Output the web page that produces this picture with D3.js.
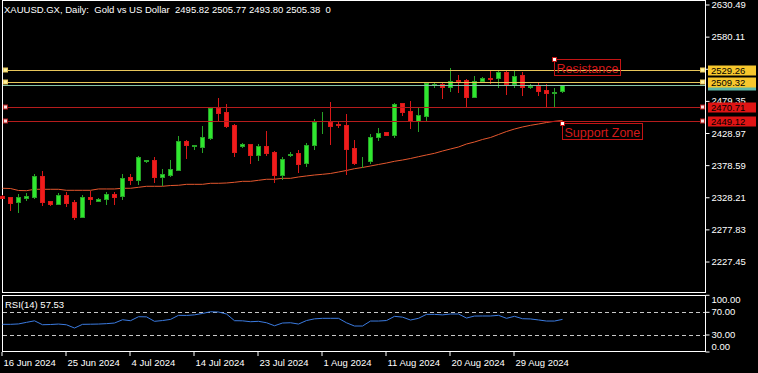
<!DOCTYPE html>
<html>
<head>
<meta charset="utf-8">
<script src="https://cdn.jsdelivr.net/npm/d3@7"></script>
<style>
  body { margin: 0; background: #000; }
  svg { display: block; font-family: "Liberation Sans", Arial, sans-serif; font-size: 9.5px; }
  text { white-space: pre; }
</style>
</head>
<body>
<div id="chart"></div>
<script>
// daily bars (broker has short Sunday sessions)
var dates = [
  "2024-06-16","2024-06-17","2024-06-18","2024-06-19","2024-06-20","2024-06-21",
  "2024-06-23","2024-06-24","2024-06-25","2024-06-26","2024-06-27","2024-06-28",
  "2024-06-30","2024-07-01","2024-07-02","2024-07-03","2024-07-04","2024-07-05",
  "2024-07-07","2024-07-08","2024-07-09","2024-07-10","2024-07-11","2024-07-12",
  "2024-07-14","2024-07-15","2024-07-16","2024-07-17","2024-07-18","2024-07-19",
  "2024-07-21","2024-07-22","2024-07-23","2024-07-24","2024-07-25","2024-07-26",
  "2024-07-28","2024-07-29","2024-07-30","2024-07-31","2024-08-01","2024-08-02",
  "2024-08-04","2024-08-05","2024-08-06","2024-08-07","2024-08-08","2024-08-09",
  "2024-08-11","2024-08-12","2024-08-13","2024-08-14","2024-08-15","2024-08-16",
  "2024-08-18","2024-08-19","2024-08-20","2024-08-21","2024-08-22","2024-08-23",
  "2024-08-25","2024-08-26","2024-08-27","2024-08-28","2024-08-29","2024-08-30",
  "2024-09-01","2024-09-02","2024-09-03","2024-09-04","2024-09-05"
]

var open = [
  2331.0,2328.9,2321.1,2328.6,2329.9,2362.3,2323.1,2318.9,2332.5,2321.6,
  2298.5,2329.4,2323.6,2325.8,2334.6,2330.5,2360.8,2356.5,2386.0,2387.4,
  2361.2,2363.9,2372.2,2417.7,2409.4,2408.3,2422.4,2469.4,2462.7,2442.3,
  2410.1,2412.5,2395.3,2409.4,2400.4,2363.9,2395.9,2397.9,2382.3,2410.5,
  2446.3,2447.5,2444.3,2442.3,2406.3,2385.9,2385.4,2424.0,2431.3,2427.1,
  2476.3,2464.3,2449.1,2456.4,2505.0,2507.1,2502.4,2512.9,2512.9,2486.7,
  2511.8,2515.5,2515.5,2524.9,2506.6,2520.7,2502.4,2503.5,2497.2,2493.0,
  2495.82
]
var high = [
  2331.8,2329.4,2333.6,2335.2,2366.0,2370.2,2323.9,2335.2,2337.7,2324.7,
  2332.5,2338.8,2327.8,2336.8,2337.7,2365.0,2365.0,2394.2,2388.0,2392.1,
  2373.3,2387.4,2425.1,2418.8,2411.7,2440.7,2471.0,2484.2,2475.2,2443.1,
  2413.9,2413.0,2412.5,2433.4,2401.5,2392.6,2400.0,2403.1,2413.9,2451.3,
  2462.7,2478.4,2447.0,2459.6,2418.8,2392.6,2428.2,2437.1,2431.8,2477.3,
  2477.3,2480.0,2471.0,2508.6,2507.7,2507.7,2531.2,2520.7,2514.0,2519.2,
  2517.1,2527.0,2528.5,2527.4,2528.5,2526.0,2506.1,2507.7,2506.1,2499.9,
  2505.77
]
var low = [
  2327.8,2309.0,2306.4,2324.7,2327.4,2316.9,2316.9,2318.0,2315.8,2294.9,
  2297.6,2318.9,2323.1,2318.9,2318.9,2326.7,2349.3,2350.3,2385.0,2352.5,
  2348.2,2362.8,2371.3,2391.0,2404.7,2400.4,2419.9,2450.2,2439.7,2393.7,
  2408.3,2382.3,2387.9,2395.3,2353.4,2357.6,2393.7,2369.1,2378.0,2404.0,
  2430.2,2412.1,2439.7,2365.5,2381.2,2377.0,2382.3,2418.8,2426.6,2424.0,
  2458.0,2438.1,2432.9,2450.2,2502.4,2485.1,2496.1,2493.6,2471.8,2485.7,
  2511.3,2508.6,2502.4,2490.4,2502.4,2489.5,2500.8,2489.2,2471.8,2471.8,
  2493.80
]
var close = [
  2328.6,2320.5,2328.9,2331.0,2361.9,2321.6,2318.4,2332.5,2320.5,2298.0,
  2328.9,2326.3,2326.3,2333.6,2329.9,2358.7,2355.6,2392.1,2387.0,2360.8,
  2365.5,2373.3,2417.2,2410.9,2410.9,2423.0,2468.5,2461.6,2440.7,2400.4,
  2412.3,2395.3,2409.4,2397.9,2363.9,2388.5,2396.8,2381.2,2410.5,2446.5,
  2447.0,2441.2,2442.3,2405.2,2382.7,2386.3,2424.0,2430.2,2427.1,2475.7,
  2463.2,2449.1,2458.0,2507.7,2506.1,2502.4,2511.8,2511.3,2486.7,2511.8,
  2515.5,2514.0,2524.9,2506.6,2519.6,2502.4,2503.5,2496.1,2493.0,2494.6,
  2505.38
]

// moving average (orange line)
var ma = [
  2343.1,2342.7,2339.6,2339.3,2341.5,2341.5,2341.5,2341.5,2339.9,2339.9,
  2339.9,2339.9,2342.0,2342.0,2342.0,2343.1,2343.1,2344.6,2346.2,2346.2,
  2346.2,2347.4,2347.8,2349.3,2349.3,2349.3,2350.9,2350.9,2351.4,2352.5,
  2354.0,2354.0,2355.6,2357.2,2357.2,2358.7,2358.7,2360.8,2362.4,2363.9,
  2365.0,2366.3,2368.6,2371.0,2373.8,2375.7,2378.0,2380.4,2382.7,2385.4,
  2387.4,2389.8,2392.6,2395.3,2397.9,2401.5,2404.7,2407.8,2412.5,2415.7,
  2419.6,2422.7,2427.4,2432.1,2436.0,2439.2,2441.8,2443.9,2446.2,2448.1,
  2449.4
]

// RSI(14)
var rsi = [
  48.8,48.8,49.5,52.3,55.0,48.1,48.5,49.3,48.0,42.3,
  48.8,49.0,49.3,50.0,51.1,56.9,55.2,62.2,62.0,54.1,
  55.5,57.5,64.7,64.5,65.5,68.0,71.0,70.5,67.0,55.2,
  55.0,53.4,54.1,51.6,46.3,51.1,51.6,49.3,55.5,58.5,
  59.4,59.4,59.4,51.5,45.8,45.8,54.6,54.6,55.5,62.9,
  61.5,56.4,59.4,66.4,66.4,65.5,67.0,67.0,59.9,63.4,
  63.5,63.5,64.7,59.4,62.9,58.7,58.3,56.5,54.6,54.6,
  57.53
]

var priceTicks = [2630.49, 2580.11, 2529.73, 2479.35, 2428.97, 2378.59, 2328.21, 2277.83, 2227.45]
var rsiTicks = [100, 70, 30, 0]
var rsiLevels = [70, 30]
var resistanceLevels = [2529.26, 2509.32]
var supportLevels = [2470.71, 2449.12]
var bidPrice = 2505.38
var title = "XAUUSD.GX, Daily:  Gold vs US Dollar  2495.82 2505.77 2493.80 2505.38  0"
var rsiTitle = "RSI(14) 57.53"
var notes = [
  {text: "Resistance", bar: 69, price: 2545.8},
  {text: "Support Zone", bar: 70, price: 2445.5}
]

var width = 758, height = 373
var left = 2, right = 705
var mainTop = 0, mainBottom = 292
var rsiTop = 295, rsiBottom = 352

var svg = d3.select("#chart")
  .append("svg")
    .attr("width", width)
    .attr("height", height)

svg.append("rect").attr("width", width).attr("height", height).attr("fill", "#000")

var parse = d3.timeParse("%Y-%m-%d")
var fmt = d3.timeFormat("%-d %b %Y")

var x = d3.scaleLinear().domain([0, 70]).range([2.5, 562.5])
var y = d3.scaleLinear().domain([2180.43, 2638.33]).range([mainBottom, mainTop])
var yr = d3.scaleLinear().domain([0, 100]).range([rsiBottom, 295.3])

// frames
svg.append("rect")
  .attr("x", left + 0.5).attr("y", mainTop + 0.5)
  .attr("width", right - left).attr("height", mainBottom - mainTop)
  .attr("fill", "none").attr("stroke", "#fff")
svg.append("rect")
  .attr("x", left + 0.5).attr("y", rsiTop + 0.5)
  .attr("width", right - left).attr("height", rsiBottom - rsiTop - 1)
  .attr("fill", "none").attr("stroke", "#fff")

// price axis
var yAxis = svg.append("g")
  .attr("transform", "translate(" + (right + 0.5) + ",0)")
  .call(d3.axisRight(y).tickValues(priceTicks).tickSize(4).tickPadding(2)
    .tickFormat(d3.format(".2f")).offset(0))
yAxis.select(".domain").remove()
yAxis.selectAll("line").attr("stroke", "#fff")
yAxis.selectAll("text").attr("fill", "#fff").attr("font-size", "9.5px")
  .attr("font-family", "Liberation Sans, Arial, sans-serif")

// moving average
svg.append("path")
  .datum(ma)
  .attr("fill", "none")
  .attr("stroke", "#e4572e")
  .attr("stroke-width", 1)
  .attr("d", d3.line().x(function(d, i) { return x(i) }).y(function(d) { return y(d) }))

// candles
var bars = d3.range(open.length)
var candle = svg.append("g").selectAll("g")
  .data(bars)
  .enter().append("g")

function isUp(i) { return close[i] >= open[i] }

candle.append("line")
  .attr("x1", function(i) { return x(i) })
  .attr("x2", function(i) { return x(i) })
  .attr("y1", function(i) { return Math.round(y(high[i])) })
  .attr("y2", function(i) { return Math.round(y(low[i])) + 1 })
  .attr("stroke", function(i) { return isUp(i) ? "#27a327" : "#d81818" })

candle.append("rect")
  .attr("x", function(i) { return x(i) - 2 })
  .attr("width", 4)
  .attr("y", function(i) { return Math.round(y(Math.max(open[i], close[i]))) + 0.5 })
  .attr("height", function(i) {
    return Math.max(0, Math.round(y(Math.min(open[i], close[i]))) - Math.round(y(Math.max(open[i], close[i]))))
  })
  .attr("fill", function(i) { return isUp(i) ? "#2fe82f" : "#f01c1c" })
  .attr("stroke", function(i) { return isUp(i) ? "#27a327" : "#d81818" })

// horizontal levels
function level(price, lineColor, boxColor, handleFill) {
  var yy = Math.round(y(price)) + 0.5
  svg.append("line")
    .attr("x1", left + 1).attr("x2", right)
    .attr("y1", yy).attr("y2", yy)
    .attr("stroke", lineColor)
  svg.append("rect")
    .attr("x", 3.5).attr("y", yy - 2.5).attr("width", 4).attr("height", 4)
    .attr("fill", handleFill).attr("stroke", lineColor)
  svg.append("rect")
    .attr("x", 700.5).attr("y", yy - 2.5).attr("width", 4).attr("height", 4)
    .attr("fill", handleFill).attr("stroke", lineColor)
  svg.append("rect")
    .attr("x", 708).attr("y", yy - 5).attr("width", 48).attr("height", 10)
    .attr("fill", boxColor)
  svg.append("text")
    .attr("x", 711).attr("y", yy).attr("dy", "0.35em")
    .attr("fill", "#000")
    .text(d3.format(".2f")(price))
}

// bid line + label (mostly hidden under the yellow label)
var by = Math.round(y(bidPrice)) + 0.5
svg.append("line")
  .attr("x1", left + 1).attr("x2", right)
  .attr("y1", by).attr("y2", by)
  .attr("stroke", "#86c4a8")
svg.append("rect")
  .attr("x", 708).attr("y", by - 5).attr("width", 48).attr("height", 10)
  .attr("fill", "#5fb8a6")

resistanceLevels.forEach(function(p) { level(p, "#e8c65a", "#f7c72c", "#fbf3a0") })
supportLevels.forEach(function(p) { level(p, "#b51c1c", "#e01414", "#f4dede") })

// text annotations
notes.forEach(function(n) {
  var nx = Math.round(x(n.bar)) - 0.5, ny = Math.round(y(n.price)) + 0.5
  var t = svg.append("text")
    .attr("x", nx + 2).attr("y", ny + 13)
    .attr("font-size", "12.5px")
    .attr("fill", "#d41a1a")
    .text(n.text)
  var w = t.node().getComputedTextLength()
  svg.append("rect")
    .attr("x", nx).attr("y", ny).attr("width", Math.round(w) + 4).attr("height", 16)
    .attr("fill", "none").attr("stroke", "#c41414")
  svg.append("rect")
    .attr("x", nx - 2).attr("y", ny - 2).attr("width", 4).attr("height", 4)
    .attr("fill", "#fff").attr("stroke", "#c41414")
})

// title
svg.append("text")
  .attr("x", 4).attr("y", 13)
  .attr("fill", "#fff")
  .text(title)

// RSI panel
rsiLevels.forEach(function(v) {
  svg.append("line")
    .attr("x1", left + 1).attr("x2", right)
    .attr("y1", Math.round(yr(v)) + 0.5).attr("y2", Math.round(yr(v)) + 0.5)
    .attr("stroke", "#c8c8c8")
    .attr("stroke-dasharray", "4,3")
})

svg.append("path")
  .datum(rsi)
  .attr("fill", "none")
  .attr("stroke", "#3b7be0")
  .attr("stroke-width", 1)
  .attr("d", d3.line().x(function(d, i) { return x(i) }).y(function(d) { return yr(d) }))

svg.append("text")
  .attr("x", 5).attr("y", 308)
  .attr("fill", "#fff")
  .text(rsiTitle)

var rAxis = svg.append("g")
  .attr("transform", "translate(" + (right + 0.5) + ",0)")
  .call(d3.axisRight(yr).tickValues(rsiTicks).tickSize(4).tickPadding(2)
    .tickFormat(d3.format(".2f")).offset(0))
rAxis.select(".domain").remove()
rAxis.selectAll("line").attr("stroke", "#fff")
rAxis.selectAll("text").attr("fill", "#fff").attr("font-size", "9.5px")
  .attr("font-family", "Liberation Sans, Arial, sans-serif")
  .attr("dy", function(d) { return d == 100 ? "0.85em" : d == 0 ? "-0.2em" : "0.32em" })

// date axis
var xAxis = svg.append("g")
  .attr("transform", "translate(0," + rsiBottom + ")")
  .call(d3.axisBottom(x)
    .tickValues(bars.filter(function(i) { return i % 8 == 0 }))
    .tickSize(4).tickPadding(3)
    .tickFormat(function(i) { return fmt(parse(dates[i])) })
    .offset(0))
xAxis.select(".domain").remove()
xAxis.selectAll("line").attr("stroke", "#fff").attr("transform", "translate(-0.5,0)")
xAxis.selectAll("text")
  .attr("fill", "#fff").attr("font-size", "9.5px")
  .attr("font-family", "Liberation Sans, Arial, sans-serif")
  .attr("text-anchor", "start").attr("x", 1)
</script>
</body>
</html>
